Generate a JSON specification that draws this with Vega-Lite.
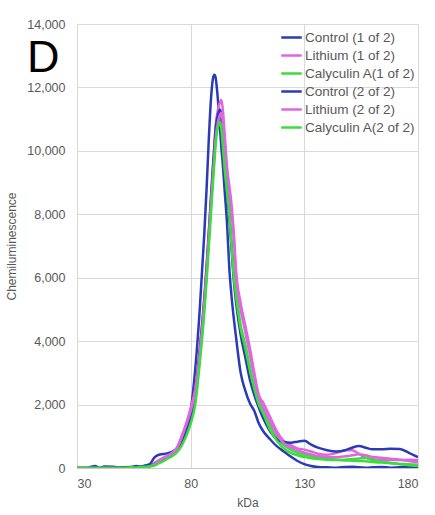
{
  "$schema": "https://vega.github.io/schema/vega-lite/v6.json",
  "width": 341,
  "height": 444,
  "autosize": {"type": "none"},
  "padding": {"left": 77, "top": 24, "right": 17, "bottom": 47},
  "background": "white",
  "title": {"text": "D", "fontSize": 45, "font": "Liberation Sans", "fontWeight": "normal", "color": "#000000", "anchor": "start", "frame": "group", "baseline": "alphabetic", "dx": -50, "dy": 103},
  "data": {"values": [
    {"k":30,"c1":0,"l1":0,"a1":0,"c2":0,"l2":0,"a2":0},
    {"k":34,"c1":0,"l1":0,"a1":0,"c2":0,"l2":0,"a2":0},
    {"k":38,"c1":60,"l1":0,"a1":0,"c2":0,"l2":0,"a2":0},
    {"k":40,"c1":0,"l1":0,"a1":0,"c2":0,"l2":0,"a2":0},
    {"k":42,"c1":50,"l1":0,"a1":0,"c2":0,"l2":0,"a2":0},
    {"k":46,"c1":40,"l1":0,"a1":0,"c2":0,"l2":0,"a2":0},
    {"k":50,"c1":0,"l1":0,"a1":0,"c2":20,"l2":0,"a2":0},
    {"k":54,"c1":30,"l1":0,"a1":0,"c2":30,"l2":0,"a2":20},
    {"k":56,"c1":60,"l1":10,"a1":20,"c2":30,"l2":10,"a2":10},
    {"k":58,"c1":40,"l1":20,"a1":30,"c2":50,"l2":10,"a2":30},
    {"k":60,"c1":80,"l1":30,"a1":40,"c2":60,"l2":20,"a2":40},
    {"k":62,"c1":120,"l1":60,"a1":60,"c2":80,"l2":50,"a2":50},
    {"k":64,"c1":330,"l1":150,"a1":100,"c2":130,"l2":120,"a2":80},
    {"k":66,"c1":420,"l1":250,"a1":170,"c2":200,"l2":220,"a2":150},
    {"k":68,"c1":440,"l1":330,"a1":240,"c2":270,"l2":300,"a2":220},
    {"k":70,"c1":470,"l1":400,"a1":320,"c2":350,"l2":380,"a2":300},
    {"k":72,"c1":520,"l1":480,"a1":400,"c2":430,"l2":460,"a2":380},
    {"k":74,"c1":620,"l1":650,"a1":530,"c2":560,"l2":620,"a2":500},
    {"k":76,"c1":800,"l1":1000,"a1":750,"c2":800,"l2":950,"a2":700},
    {"k":78,"c1":1150,"l1":1400,"a1":1050,"c2":1150,"l2":1350,"a2":1000},
    {"k":80,"c1":1800,"l1":1900,"a1":1450,"c2":1600,"l2":1800,"a2":1400},
    {"k":82,"c1":3100,"l1":2500,"a1":2100,"c2":2300,"l2":2400,"a2":2000},
    {"k":84,"c1":5000,"l1":3800,"a1":3500,"c2":3700,"l2":3600,"a2":3300},
    {"k":86,"c1":7400,"l1":5400,"a1":5100,"c2":5300,"l2":5200,"a2":4900},
    {"k":87,"c1":8800,"l1":6400,"a1":6100,"c2":6300,"l2":6200,"a2":5900},
    {"k":88,"c1":10400,"l1":7500,"a1":7200,"c2":7400,"l2":7300,"a2":7000},
    {"k":89,"c1":11700,"l1":8600,"a1":8400,"c2":8600,"l2":8400,"a2":8100},
    {"k":90,"c1":12350,"l1":9700,"a1":9500,"c2":9700,"l2":9400,"a2":9200},
    {"k":90.5,"c1":12400,"l1":10300,"a1":10000,"c2":10200,"l2":9900,"a2":9700},
    {"k":91,"c1":12300,"l1":10800,"a1":10500,"c2":10700,"l2":10400,"a2":10200},
    {"k":92,"c1":11600,"l1":11300,"a1":11000,"c2":11150,"l2":10900,"a2":10750},
    {"k":93,"c1":10600,"l1":11550,"a1":11100,"c2":11300,"l2":11150,"a2":10900},
    {"k":93.5,"c1":10100,"l1":11600,"a1":10900,"c2":11100,"l2":11200,"a2":10700},
    {"k":94,"c1":9700,"l1":11400,"a1":10500,"c2":10600,"l2":11000,"a2":10300},
    {"k":95,"c1":8700,"l1":10500,"a1":9500,"c2":9600,"l2":10200,"a2":9400},
    {"k":96,"c1":7700,"l1":9500,"a1":8800,"c2":8700,"l2":9300,"a2":8700},
    {"k":97,"c1":6300,"l1":8900,"a1":8100,"c2":7900,"l2":8700,"a2":8000},
    {"k":98,"c1":5400,"l1":8300,"a1":7100,"c2":6900,"l2":8000,"a2":7000},
    {"k":99,"c1":4700,"l1":7400,"a1":6100,"c2":5900,"l2":7200,"a2":6000},
    {"k":100,"c1":4100,"l1":6200,"a1":5500,"c2":5200,"l2":6000,"a2":5400},
    {"k":102,"c1":3000,"l1":5200,"a1":4500,"c2":4200,"l2":5000,"a2":4400},
    {"k":104,"c1":2450,"l1":4500,"a1":3900,"c2":3500,"l2":4300,"a2":3800},
    {"k":106,"c1":2050,"l1":3800,"a1":3200,"c2":2800,"l2":3600,"a2":3100},
    {"k":108,"c1":1800,"l1":3000,"a1":2600,"c2":2300,"l2":2850,"a2":2500},
    {"k":110,"c1":1400,"l1":2300,"a1":2150,"c2":1900,"l2":2200,"a2":2000},
    {"k":112,"c1":1150,"l1":2050,"a1":1850,"c2":1550,"l2":1900,"a2":1700},
    {"k":115,"c1":900,"l1":1600,"a1":1350,"c2":1150,"l2":1450,"a2":1200},
    {"k":118,"c1":680,"l1":1150,"a1":950,"c2":900,"l2":1050,"a2":850},
    {"k":121,"c1":520,"l1":850,"a1":720,"c2":820,"l2":780,"a2":620},
    {"k":124,"c1":360,"l1":720,"a1":580,"c2":800,"l2":650,"a2":480},
    {"k":127,"c1":220,"l1":620,"a1":480,"c2":830,"l2":560,"a2":400},
    {"k":130,"c1":120,"l1":580,"a1":420,"c2":860,"l2":480,"a2":350},
    {"k":133,"c1":60,"l1":520,"a1":370,"c2":740,"l2":430,"a2":310},
    {"k":136,"c1":30,"l1":450,"a1":330,"c2":640,"l2":380,"a2":280},
    {"k":140,"c1":20,"l1":420,"a1":290,"c2":560,"l2":350,"a2":260},
    {"k":144,"c1":10,"l1":470,"a1":260,"c2":520,"l2":340,"a2":250},
    {"k":148,"c1":30,"l1":560,"a1":240,"c2":560,"l2":370,"a2":260},
    {"k":151,"c1":40,"l1":560,"a1":230,"c2":640,"l2":400,"a2":280},
    {"k":154,"c1":20,"l1":450,"a1":220,"c2":690,"l2":430,"a2":300},
    {"k":157,"c1":10,"l1":320,"a1":210,"c2":640,"l2":400,"a2":320},
    {"k":160,"c1":20,"l1":280,"a1":190,"c2":590,"l2":350,"a2":250},
    {"k":164,"c1":30,"l1":260,"a1":170,"c2":590,"l2":320,"a2":200},
    {"k":168,"c1":10,"l1":250,"a1":150,"c2":610,"l2":290,"a2":160},
    {"k":172,"c1":20,"l1":250,"a1":130,"c2":600,"l2":260,"a2":120},
    {"k":176,"c1":20,"l1":260,"a1":120,"c2":480,"l2":220,"a2":90},
    {"k":180,"c1":30,"l1":250,"a1":100,"c2":340,"l2":180,"a2":60}
  ]},
  "transform": [
    {"fold": ["c1", "l1", "a1", "c2", "l2", "a2"], "as": ["series", "value"]}
  ],
  "mark": {"type": "line", "strokeWidth": 2.5, "interpolate": "monotone", "clip": true},
  "encoding": {
    "x": {
      "field": "k", "type": "quantitative",
      "scale": {"domain": [30, 180], "nice": false, "zero": false},
      "axis": {"values": [30, 80, 130, 180], "title": "kDa", "titlePadding": 8}
    },
    "y": {
      "field": "value", "type": "quantitative",
      "scale": {"domain": [0, 14000], "nice": false},
      "axis": {"values": [0, 2000, 4000, 6000, 8000, 10000, 12000, 14000], "format": ",.0f", "title": "Chemiluminescence", "titlePadding": 8, "labelPadding": 12}
    },
    "color": {
      "field": "series", "type": "nominal",
      "scale": {"domain": ["c1", "l1", "a1", "c2", "l2", "a2"], "range": ["#2a3cb5", "#e066e0", "#3cdc3c", "#2a3cb5", "#e066e0", "#3cdc3c"]},
      "legend": {
        "title": null,
        "orient": "top-right",
        "offset": 2,
        "padding": 0,
        "symbolType": "stroke",
        "symbolSize": 420,
        "symbolStrokeWidth": 2.5,
        "labelOffset": 2,
        "rowPadding": 0,
        "labelExpr": "{'c1':'Control (1 of 2)','l1':'Lithium (1 of 2)','a1':'Calyculin A(1 of 2)','c2':'Control (2 of 2)','l2':'Lithium (2 of 2)','a2':'Calyculin A(2 of 2)'}[datum.label]"
      }
    }
  },
  "config": {
    "font": "Liberation Sans",
    "view": {"stroke": null},
    "axis": {
      "grid": true, "gridColor": "#d9d9d9", "gridWidth": 1,
      "domain": false, "ticks": false,
      "labelColor": "#595959", "labelFontSize": 12.5, "labelFont": "Liberation Sans",
      "titleColor": "#595959", "titleFontSize": 12, "titleFontWeight": "normal", "titleFont": "Liberation Sans"
    },
    "axisX": {"labelPadding": 9, "domain": true, "domainColor": "#c8c8c8"},
    "legend": {"labelFontSize": 13.5, "labelColor": "#595959", "labelFont": "Liberation Sans"}
  }
}
